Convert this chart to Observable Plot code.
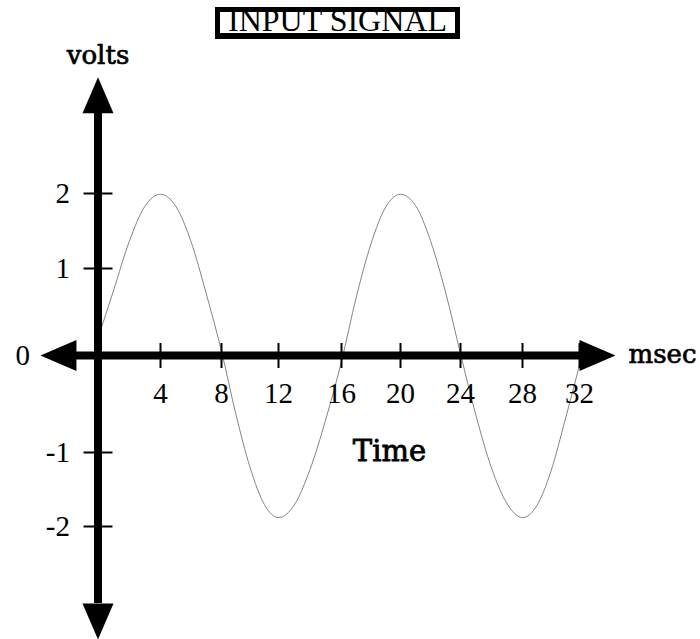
<!DOCTYPE html>
<html>
<head>
<meta charset="utf-8">
<script src="https://cdn.jsdelivr.net/npm/d3@7"></script>
<script src="https://cdn.jsdelivr.net/npm/@observablehq/plot@0.6"></script>
<style>
  html, body { margin: 0; padding: 0; background: #fff; }
  #wrap { position: relative; width: 700px; height: 639px; }
  #title {
    position: absolute; left: 215px; top: 7px; width: 245px; height: 32px;
    box-sizing: border-box; border: 5px solid #000; border-bottom-width: 6px;
    font-family: "Liberation Serif", "Times New Roman", serif; font-size: 32px;
    line-height: 16px; text-align: center; white-space: nowrap; color: #000;
  }
</style>
</head>
<body>
<div id="wrap"><div id="title">INPUT SIGNAL</div></div>
<script>
// ---- data ----
const timeMs = [0, 1, 2, 3, 4, 5, 6, 7, 8, 9, 10, 11, 12, 13, 14, 15, 16,
                17, 18, 19, 20, 21, 22, 23, 24, 25, 26, 27, 28, 29, 30, 31, 32];
const volts = [0.2, 0.75, 1.36, 1.83, 1.99, 1.83, 1.36, 0.71, 0.05, -0.6, -1.2, -1.7, -1.88, -1.71, -1.23, -0.66, -0.06,
               0.67, 1.33, 1.82, 1.99, 1.84, 1.37, 0.73, 0.02, -0.62, -1.21, -1.69, -1.88, -1.72, -1.25, -0.66, -0.1];
const xTickValues = [4, 8, 12, 16, 20, 24, 28, 32];
const yTickValues = [-2, -1, 1, 2];
const zeroLabel = ["0"];
const xAxisExtent = [-1.38, 32];
const yAxisExtent = [-3.04, 3.07];
const yAxisTitle = "volts";
const xAxisTitle = "Time";
const xUnitLabel = "msec";

const signal = timeMs.map((t, i) => ({t, v: volts[i]}));

// the hand-drawn axes are not evenly spaced: piecewise warps used as scale transforms
const xWarp = d3.scaleLinear().domain([0, 4, 8, 12, 16, 20, 24, 28, 32]).range([97.5, 160, 221, 278, 341, 400, 460, 522, 579]);
const yWarp = d3.scaleLinear().domain([-2, -1, 0, 1, 2]).range([526, 452, 355, 268, 193]);

// filled arrow head pointing up, origin at the base centre
const arrowHead = {draw(ctx) { ctx.moveTo(0, -36); ctx.lineTo(15.5, 0); ctx.lineTo(-15.5, 0); ctx.closePath(); }};
const vTick = {draw(ctx) { ctx.moveTo(0, -12.5); ctx.lineTo(0, 12.5); }};
const hTick = {draw(ctx) { ctx.moveTo(-14.5, 0); ctx.lineTo(14.5, 0); }};

const arrows = [
  {x: 0, y: yAxisExtent[1], r: 0},
  {x: 0, y: yAxisExtent[0], r: 180},
  {x: xAxisExtent[0], y: 0, r: -90},
  {x: xAxisExtent[1], y: 0, r: 90}
];

const serif = "'Liberation Serif', 'Times New Roman', serif";
const casual = "'DejaVu Serif', serif";

const chart = Plot.plot({
  width: 700,
  height: 639,
  margin: 0,
  style: {background: "white", overflow: "visible"},
  x: {transform: xWarp, domain: [0, 700], range: [0, 700], axis: null},
  y: {transform: yWarp, domain: [0, 639], range: [0, 639], axis: null},
  marks: [
    Plot.line(signal, {x: "t", y: "v", curve: "monotone-x", stroke: "#858585", strokeWidth: 1}),
    Plot.ruleY([0], {x1: () => xAxisExtent[0], x2: () => xAxisExtent[1], stroke: "black", strokeWidth: 8}),
    Plot.ruleX([0], {y1: () => yAxisExtent[0], y2: () => yAxisExtent[1], stroke: "black", strokeWidth: 8}),
    Plot.dot(xTickValues, {x: d => d, y: () => 0, symbol: vTick, fill: "none", stroke: "black", strokeWidth: 2}),
    Plot.dot(yTickValues, {x: () => 0, y: d => d, symbol: hTick, fill: "none", stroke: "black", strokeWidth: 2}),
    Plot.dot(arrows, {x: "x", y: "y", rotate: "r", symbol: arrowHead, fill: "black", stroke: "none"}),
    Plot.text(xTickValues, {x: d => d, y: () => 0, text: d => String(d), dy: 47, lineAnchor: "bottom",
      textAnchor: "middle", fontSize: 29, fontFamily: serif, fill: "black"}),
    Plot.text(yTickValues, {x: () => 0, y: d => d, text: d => String(d), dx: -28, textAnchor: "end",
      fontSize: 29, fontFamily: serif, fill: "black"}),
    Plot.text(zeroLabel, {x: () => 0, y: () => 0, text: d => d, dx: -68, textAnchor: "end",
      fontSize: 29, fontFamily: serif, fill: "black"}),
    Plot.text([yAxisTitle], {x: () => 0, frameAnchor: "top", dy: 63, lineAnchor: "bottom", textAnchor: "middle",
      fontSize: 26, fontFamily: casual, fill: "black", stroke: "black", strokeWidth: 0.7}),
    Plot.text([xUnitLabel], {x: () => xAxisExtent[1], y: () => 0, dx: 49, dy: 7, lineAnchor: "bottom", textAnchor: "start",
      fontSize: 26, fontFamily: casual, fill: "black", stroke: "black", strokeWidth: 0.7}),
    Plot.text([xAxisTitle], {frameAnchor: "top-left", dx: 389, dy: 460, lineAnchor: "bottom", textAnchor: "middle",
      fontSize: 29, fontFamily: casual, fill: "black", stroke: "black", strokeWidth: 0.8})
  ]
});
document.getElementById("wrap").appendChild(chart);
</script>
</body>
</html>
